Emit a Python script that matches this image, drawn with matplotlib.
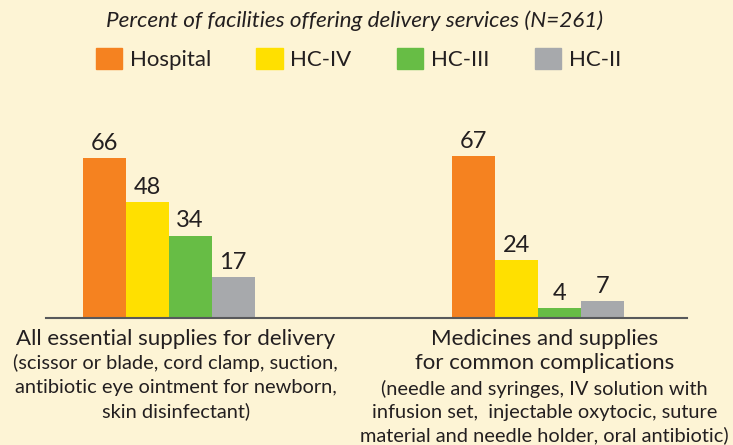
import matplotlib.pyplot as plt
from matplotlib.transforms import blended_transform_factory
from matplotlib.patches import Patch

# data
facility_types = ['Hospital', 'HC-IV', 'HC-III', 'HC-II']
group_titles = [['All essential supplies for delivery'],
                ['Medicines and supplies', 'for common complications']]
group_notes = [['(scissor or blade, cord clamp, suction,',
                'antibiotic eye ointment for newborn,',
                'skin disinfectant)'],
               ['(needle and syringes, IV solution with',
                'infusion set,  injectable oxytocic, suture',
                'material and needle holder, oral antibiotic)']]
hospital = [66, 67]
hc_iv = [48, 24]
hc_iii = [34, 4]
hc_ii = [17, 7]
values = [hospital, hc_iv, hc_iii, hc_ii]

# styles
background_color = '#FDF4D5'
text_color = '#231F20'
bar_colors = ['#F58220', '#FFE000', '#67BD45', '#A7A9AC']
axis_color = '#58595B'

plt.rcParams['font.family'] = ['Lato', 'DejaVu Sans']

fig = plt.figure(figsize=(7.33, 4.45), dpi=100)
fig.patch.set_facecolor(background_color)
ax = fig.add_axes([0.0628, 0.2854, 0.8745, 0.49])
ax.set_facecolor(background_color)

width = 0.1165
x = range(len(group_titles))
for i, (name, vals) in enumerate(zip(facility_types, values)):
    pos = [g + (i - 1.5) * width for g in x]
    bars = ax.bar(pos, vals, width=width, color=bar_colors[i], label=name)
    ax.bar_label(bars, padding=3, fontsize=17, color=text_color)

ax.set_xlim(-0.332, 1.405)
ax.set_ylim(0, 90)
ax.spines[['left', 'right', 'top']].set_visible(False)
ax.spines['bottom'].set_color(axis_color)
ax.spines['bottom'].set_linewidth(1.5)
ax.set_xticks([])
ax.set_yticks([])

# category labels under the axis (baselines in pixels from the top)
trans = blended_transform_factory(ax.transData, fig.transFigure)
H = 445
title_start = [345, 345]
note_start = [369, 395]
line_step = [24, 23]
for g in x:
    for k, line in enumerate(group_titles[g]):
        y = title_start[g] + k * 24
        ax.text(g + 0.019, 1 - y / H, line, transform=trans, ha='center',
                va='baseline', fontsize=16, color=text_color)
    for k, line in enumerate(group_notes[g]):
        y = note_start[g] + k * line_step[g]
        ax.text(g + 0.019, 1 - y / H, line, transform=trans, ha='center',
                va='baseline', fontsize=14.4, color=text_color)

# subtitle
fig.text(0.484, 1 - 21 / H, 'Percent of facilities offering delivery services (N=261)',
         ha='center', va='center', fontsize=16.2, style='italic', color=text_color)

# legend
handles = [Patch(color=c, label=n) for c, n in zip(bar_colors, facility_types)]
fig.legend(handles=handles, loc='center', bbox_to_anchor=(0.489, 1 - 59 / H), ncol=4,
           frameon=False, fontsize=16, handlelength=1.18, handleheight=1.05,
           handletextpad=0.35, columnspacing=2.05, labelcolor=text_color)

fig.savefig('out.png', dpi=100, facecolor=background_color)
